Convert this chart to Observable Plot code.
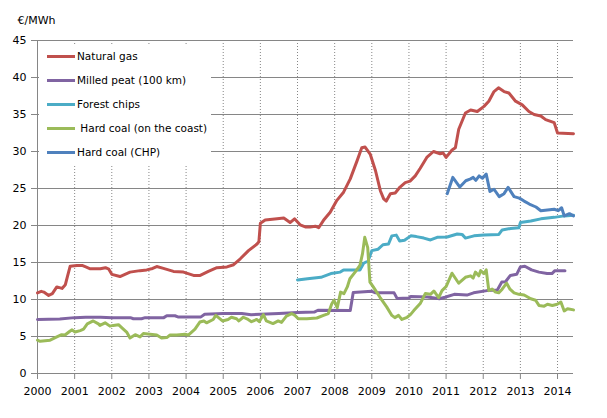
<!DOCTYPE html>
<html>
<head>
<meta charset="utf-8">
<script src="https://cdn.jsdelivr.net/npm/d3@7"></script>
<script src="https://cdn.jsdelivr.net/npm/@observablehq/plot@0.6"></script>
<style>
  html, body { margin: 0; padding: 0; background: #fff; }
  #wrap { position: relative; width: 607px; height: 418px; font-family: "DejaVu Sans", Verdana, sans-serif; }
  #legend { position: absolute; left: 39px; top: 44px; width: 172px; height: 120px; background: #fff; }
  .item { position: absolute; left: 8px; height: 14px; display: flex; align-items: center; font-size: 10.5px; color: #000; white-space: pre; }
  .sw { width: 28px; height: 3px; margin-right: 2px; }
  svg [aria-label="x-axis tick"], svg [aria-label="y-axis tick"], svg .tick line { stroke: #868686; }
  svg .domain { stroke: #868686; }
</style>
</head>
<body>
<div id="wrap"><div id="chart"></div><div id="legend"></div></div>
<script>
// ---- Data (€/MWh, monthly-ish readings; x = decimal year) ----
const years = [2000, 2001, 2002, 2003, 2004, 2005, 2006, 2007, 2008, 2009, 2010, 2011, 2012, 2013, 2014];
const yTicks = [0, 5, 10, 15, 20, 25, 30, 35, 40, 45];
const seriesNames = ["Natural gas", "Milled peat (100 km)", "Forest chips", "Hard coal (on the coast)", "Hard coal (CHP)"];
const seriesColors = ["#C0504D", "#8064A2", "#4BACC6", "#9BBB59", "#4F81BD"];

const naturalGas = [[2000.0,10.9],[2000.1,11.1],[2000.17,11.0],[2000.3,10.55],[2000.4,10.8],[2000.52,11.7],[2000.66,11.5],[2000.75,12.0],[2000.8,13.0],[2000.88,14.5],[2001.06,14.6],[2001.2,14.6],[2001.3,14.4],[2001.42,14.15],[2001.69,14.15],[2001.83,14.3],[2001.92,14.1],[2002.0,13.4],[2002.22,13.1],[2002.49,13.7],[2002.76,13.9],[2002.94,14.0],[2003.1,14.2],[2003.21,14.45],[2003.39,14.2],[2003.66,13.8],[2003.93,13.7],[2004.2,13.25],[2004.38,13.25],[2004.6,13.8],[2004.83,14.3],[2005.1,14.4],[2005.28,14.7],[2005.46,15.5],[2005.68,16.6],[2005.91,17.5],[2005.96,17.8],[2006.0,20.3],[2006.13,20.75],[2006.45,20.9],[2006.63,21.0],[2006.8,20.4],[2006.92,20.9],[2007.07,20.1],[2007.21,19.8],[2007.34,19.8],[2007.48,19.9],[2007.57,19.7],[2007.7,20.7],[2007.88,21.8],[2008.06,23.4],[2008.24,24.5],[2008.42,26.3],[2008.6,28.7],[2008.73,30.5],[2008.82,30.6],[2008.96,29.6],[2009.1,27.4],[2009.23,24.7],[2009.32,23.6],[2009.39,23.3],[2009.5,24.3],[2009.63,24.4],[2009.76,25.2],[2009.9,25.8],[2010.03,26.0],[2010.17,26.7],[2010.3,27.7],[2010.48,29.2],[2010.66,30.0],[2010.84,29.7],[2010.92,29.8],[2011.0,29.2],[2011.16,30.2],[2011.25,30.5],[2011.34,33.0],[2011.52,35.2],[2011.66,35.6],[2011.84,35.4],[2012.02,36.1],[2012.15,36.8],[2012.29,38.1],[2012.41,38.6],[2012.56,38.1],[2012.69,37.9],[2012.87,36.8],[2013.05,36.3],[2013.23,35.4],[2013.37,35.0],[2013.55,34.8],[2013.68,34.3],[2013.91,33.9],[2014.0,32.5],[2014.43,32.4]];

const milledPeat = [[2000.0,7.3],[2000.6,7.35],[2001.0,7.55],[2001.3,7.6],[2001.7,7.6],[2002.0,7.55],[2002.5,7.55],[2002.58,7.4],[2002.8,7.4],[2002.9,7.55],[2003.4,7.55],[2003.48,7.8],[2003.7,7.8],[2003.78,7.65],[2004.4,7.65],[2004.5,8.0],[2005.0,8.1],[2005.5,8.1],[2005.75,7.95],[2006.0,8.0],[2006.5,8.1],[2007.0,8.25],[2007.45,8.3],[2007.55,8.55],[2008.42,8.5],[2008.5,10.95],[2009.0,11.1],[2009.1,10.9],[2009.6,10.9],[2009.68,10.15],[2010.0,10.2],[2010.05,10.4],[2010.5,10.35],[2010.82,10.1],[2010.97,10.3],[2011.22,10.7],[2011.56,10.6],[2011.74,10.9],[2012.1,11.2],[2012.38,11.3],[2012.5,12.35],[2012.6,12.4],[2012.73,13.25],[2012.9,13.4],[2013.0,14.4],[2013.12,14.5],[2013.3,14.0],[2013.5,13.7],[2013.72,13.5],[2013.85,13.5],[2013.93,13.9],[2014.2,13.9]];

const forestChips = [[2007.0,12.65],[2007.27,12.8],[2007.63,13.0],[2007.9,13.5],[2008.15,13.7],[2008.24,14.0],[2008.68,14.0],[2008.78,14.9],[2008.9,15.2],[2009.0,16.6],[2009.17,16.8],[2009.3,17.4],[2009.45,17.5],[2009.54,18.6],[2009.66,18.7],[2009.75,17.9],[2009.88,18.0],[2010.05,18.6],[2010.2,18.5],[2010.4,18.3],[2010.58,18.05],[2010.76,18.4],[2011.03,18.45],[2011.3,18.85],[2011.43,18.8],[2011.52,18.3],[2011.75,18.6],[2012.02,18.7],[2012.42,18.8],[2012.51,19.4],[2012.74,19.6],[2012.96,19.7],[2013.0,20.4],[2013.28,20.6],[2013.55,20.9],[2013.91,21.1],[2014.18,21.3],[2014.43,21.4]];

const hardCoalCoast = [[2000.0,4.5],[2000.07,4.35],[2000.34,4.5],[2000.52,4.95],[2000.65,5.25],[2000.74,5.2],[2000.88,5.75],[2000.93,5.9],[2001.01,5.6],[2001.15,5.8],[2001.24,6.0],[2001.34,6.7],[2001.5,7.1],[2001.64,6.7],[2001.68,6.5],[2001.82,6.85],[2001.95,6.4],[2002.04,6.5],[2002.18,6.6],[2002.31,6.0],[2002.4,5.6],[2002.49,4.8],[2002.63,5.25],[2002.76,4.95],[2002.85,5.4],[2003.03,5.3],[2003.21,5.2],[2003.34,4.8],[2003.48,4.85],[2003.57,5.2],[2003.75,5.2],[2003.97,5.3],[2004.06,5.2],[2004.24,6.0],[2004.37,6.95],[2004.48,7.1],[2004.55,6.85],[2004.73,7.3],[2004.8,7.85],[2004.98,7.1],[2005.13,7.3],[2005.22,7.6],[2005.36,7.4],[2005.42,7.1],[2005.54,7.6],[2005.67,7.3],[2005.76,7.0],[2005.9,7.3],[2005.97,7.0],[2006.08,7.95],[2006.16,7.1],[2006.34,6.75],[2006.48,7.1],[2006.57,6.9],[2006.7,7.75],[2006.84,8.1],[2006.93,7.85],[2007.02,7.4],[2007.25,7.4],[2007.52,7.5],[2007.7,7.85],[2007.83,8.1],[2007.92,9.4],[2007.98,9.9],[2008.07,8.9],[2008.16,11.0],[2008.25,10.8],[2008.34,11.7],[2008.41,12.8],[2008.55,13.7],[2008.68,14.6],[2008.75,16.2],[2008.81,18.4],[2008.89,17.0],[2008.95,12.35],[2009.04,11.7],[2009.22,10.3],[2009.4,9.0],[2009.54,7.85],[2009.62,7.55],[2009.72,7.85],[2009.81,7.3],[2009.95,7.6],[2010.04,7.95],[2010.13,8.5],[2010.31,9.5],[2010.44,10.8],[2010.58,10.7],[2010.67,11.15],[2010.8,10.25],[2010.89,11.2],[2011.0,11.75],[2011.16,13.55],[2011.34,12.2],[2011.52,13.0],[2011.66,13.2],[2011.73,12.9],[2011.79,13.7],[2011.88,13.2],[2011.93,13.9],[2012.02,13.5],[2012.08,14.0],[2012.15,11.2],[2012.24,11.4],[2012.33,11.0],[2012.42,10.9],[2012.51,11.4],[2012.63,12.2],[2012.72,11.4],[2012.83,10.9],[2012.96,10.7],[2013.1,10.6],[2013.28,10.1],[2013.41,9.9],[2013.5,9.2],[2013.64,9.1],[2013.73,9.35],[2013.86,9.2],[2013.99,9.35],[2014.09,9.65],[2014.18,8.45],[2014.27,8.75],[2014.43,8.6]];

const hardCoalCHP = [[2011.03,24.3],[2011.18,26.5],[2011.37,25.2],[2011.53,26.05],[2011.66,26.3],[2011.73,26.5],[2011.8,26.1],[2011.89,26.7],[2011.98,26.4],[2012.08,26.95],[2012.18,24.6],[2012.29,24.9],[2012.43,23.9],[2012.56,24.3],[2012.67,25.15],[2012.83,23.9],[2012.97,23.7],[2013.1,23.3],[2013.24,22.9],[2013.42,22.5],[2013.55,22.0],[2013.73,22.1],[2013.91,22.2],[2014.02,22.0],[2014.11,22.4],[2014.18,21.3],[2014.32,21.6],[2014.43,21.3]];

const allSeries = [naturalGas, milledPeat, forestChips, hardCoalCoast, hardCoalCHP];
const rows = allSeries.flatMap((s, i) => s.map(([t, v]) => ({t, v, series: seriesNames[i]})));

const chart = Plot.plot({
  width: 607,
  height: 418,
  marginLeft: 37,
  marginRight: 34,
  marginTop: 40,
  marginBottom: 45,
  style: {fontFamily: '"DejaVu Sans", Verdana, sans-serif', fontSize: "11px", color: "#000", background: "#fff", overflow: "visible"},
  x: {domain: [2000, 2014.43], ticks: years, tickFormat: d => String(d), tickSize: 6, tickPadding: 8, label: null},
  y: {domain: [0, 45], ticks: yTicks, tickSize: 6, tickPadding: 5, label: null},
  color: {domain: seriesNames, range: seriesColors},
  marks: [
    Plot.ruleX(years.slice(1), {stroke: "#868686", strokeOpacity: 1, strokeDasharray: "1,2"}),
    Plot.ruleY(yTicks, {stroke: "#868686", strokeOpacity: 1}),
    Plot.ruleX(years.slice(0, 1), {stroke: "#868686", strokeOpacity: 1}),
    Plot.line(rows, {x: "t", y: "v", z: "series", stroke: "series", strokeWidth: 3, strokeLinejoin: "round", strokeLinecap: "round"}),
    Plot.text(["€/MWh"], {text: d => d, frameAnchor: "top-left", dx: -20, dy: -24, textAnchor: "start", fontSize: 11})
  ]
});
document.getElementById("chart").appendChild(chart);

// Legend (overlaid on plot, white box)
const legend = document.getElementById("legend");
const rowTops = [5, 29, 53, 77, 101];
seriesNames.forEach((name, i) => {
  const it = document.createElement("div");
  it.className = "item";
  it.style.top = rowTops[i] + "px";
  const sw = document.createElement("div");
  sw.className = "sw";
  sw.style.background = seriesColors[i];
  const lab = document.createElement("span");
  lab.textContent = (i === 3 ? " " : "") + name;
  it.appendChild(sw);
  it.appendChild(lab);
  legend.appendChild(it);
});
</script>
</body>
</html>
